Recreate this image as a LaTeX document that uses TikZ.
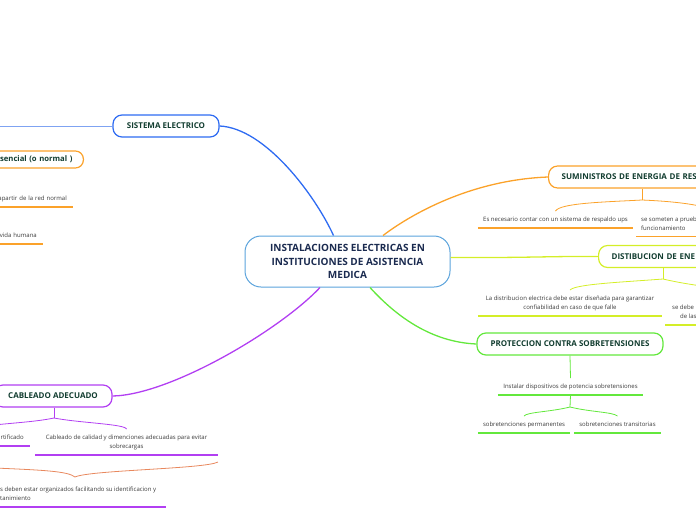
\documentclass[tikz,border=0pt]{standalone}
\usepackage{fontspec}
\setmainfont{Open Sans}
\definecolor{cblue}{HTML}{5BA3DC}
\definecolor{blueA}{HTML}{2E6BF2}
\definecolor{blueL}{HTML}{7FA3F2}
\definecolor{orng}{HTML}{FBA22A}
\definecolor{ygrn}{HTML}{D4EE28}
\definecolor{grn}{HTML}{63E83C}
\definecolor{purp}{HTML}{B23FF2}
\definecolor{salm}{HTML}{E8885E}
\definecolor{titlec}{HTML}{1B2B50}
\definecolor{topicc}{HTML}{123D30}
\definecolor{leafc}{HTML}{3A3A3A}
\begin{document}
\begin{tikzpicture}[x=1pt,y=-1pt,
  central/.style={draw=cblue, line width=1pt, rounded corners=16pt, fill=white,
    minimum width=205pt, minimum height=51pt, align=center,
    font=\fontsize{10}{13.5}\selectfont\bfseries, text=titlec},
  topic/.style={rounded corners=9pt, line width=1.2pt, fill=white, minimum height=22pt,
    font=\fontsize{8}{9}\selectfont\bfseries, text=topicc},
  leaf/.style={font=\fontsize{6}{9}\selectfont, text=leafc, inner xsep=0pt,
    inner ysep=6pt, text depth=0pt, align=center, anchor=south},
  ul/.style={line width=1.6pt},
  conn/.style={line width=1.3pt},
  sub/.style={line width=0.8pt}]
\useasboundingbox (0,0) rectangle (696,520);
\clip (0,0) rectangle (696,520);

% central
\node[central] (c) at (347.5,261.5) {INSTALACIONES ELECTRICAS EN\\INSTITUCIONES DE ASISTENCIA\\MEDICA};

% topics
\node[topic, draw=blueA, minimum width=106pt] (se) at (166,126) {SISTEMA ELECTRICO};
\node[topic, draw=orng, minimum height=17pt, rounded corners=8pt, text width=110pt, align=right,
  inner xsep=11pt, anchor=east, font=\fontsize{7.7}{9}\selectfont\bfseries] (es) at (84,159.5) {sencial (o normal )};
\node[topic, draw=orng, text width=160pt, align=left, inner xsep=13pt, anchor=west] (sum) at (548,177) {SUMINISTROS DE ENERGIA DE RES};
\node[topic, draw=ygrn, text width=160pt, align=left, inner xsep=13pt, anchor=west] (dis) at (598,256.5) {DISTIBUCION DE ENE};
\node[topic, draw=grn, minimum width=186pt] (pro) at (570,344) {PROTECCION CONTRA SOBRETENSIONES};
\node[topic, draw=purp, minimum width=118pt] (cab) at (53,396) {CABLEADO ADECUADO};

% main connectors
\draw[conn, blueA] ([xshift=-14pt]c.north) .. controls (315,195) and (265,128) .. (se.east);
\coordinate (seL) at (0,126);
\draw[sub, blueL] (se.west) -- (seL);
\draw[conn, orng] ([xshift=35.5pt]c.north) .. controls (410,215) and (470,180) .. (sum.west);
\draw[conn, ygrn] ([yshift=4pt]c.east) .. controls (520,258) and (560,256) .. (dis.west);
\draw[conn, grn] ([xshift=22.5pt]c.south) .. controls (395,315) and (430,342) .. (pro.west);
\draw[conn, purp] ([xshift=-27.5pt]c.south) .. controls (280,330) and (170,395) .. (cab.east);

% left orange leaves
\node[leaf, anchor=south east, inner xsep=6pt, text width=100pt, align=right] (apr) at (73,207) {apartir de la red normal};
\node[leaf, anchor=south east, inner xsep=6pt, text width=60pt, align=right] (vh) at (43,244) {vida humana};
\draw[ul, orng] ([xshift=-6pt]apr.south west) -- (apr.south east);
\draw[ul, orng] (vh.south west) -- (vh.south east);

% suministros
\node[leaf, minimum width=155pt] (esn) at (555.5,228) {Es necesario contar con un sistema de respaldo ups};
\node[leaf, anchor=south west, align=left] (srp) at (641,236.5) {se someten a prueb\\funcionamiento};
\draw[ul, orng] (esn.south west) -- (esn.south east);
\draw[ul, orng] ([xshift=-5pt]srp.south west) -- ([xshift=60pt]srp.south west);
\coordinate (sumb) at (642,200);
\coordinate (sumR) at (708,208);
\draw[sub, orng] (sumb |- sum.south) -- (sumb);
\draw[sub, orng] (sumb) .. controls (605,202) and (560,203) .. (esn.north);
\draw[sub, orng] (sumb) .. controls (665,201) and (690,203) .. (sumR);

% distribucion
\node[leaf, minimum width=184pt] (lad) at (570,316) {La distribucion electrica debe estar diseñada para garantizar\\confiabilidad en caso de que falle};
\node[leaf, anchor=south west, align=left] (sdb) at (665,325) {\hspace*{7pt}se debe\\\hspace*{15pt}de las};
\draw[ul, ygrn] (lad.south west) -- (lad.south east);
\draw[ul, ygrn] (sdb.south west) -- ([xshift=40pt]sdb.south west);
\coordinate (disb) at (663,279);
\coordinate (disR) at (708,287);
\draw[sub, ygrn] (disb |- dis.south) -- (disb);
\draw[sub, ygrn] (disb) .. controls (625,282) and (575,284) .. (lad.north);
\draw[sub, ygrn] (disb) .. controls (680,283) and (695,285) .. (disR);

% proteccion
\node[leaf, minimum width=145pt] (ins) at (570.5,395) {Instalar dispositivos de potencia sobretensiones};
\node[leaf, minimum width=92pt] (sp) at (524,433) {sobretenciones permanentes};
\node[leaf, minimum width=87pt] (st) at (617.5,433) {sobretenciones transitorias};
\draw[ul, grn] (ins.south west) -- (ins.south east);
\draw[ul, grn] (sp.south west) -- (sp.south east);
\draw[ul, grn] (st.south west) -- (st.south east);
\draw[sub, grn] (pro.south) -- (ins.north);
\coordinate (insb) at (570,407);
\draw[sub, grn] (ins.south) -- (insb);
\draw[sub, grn] (insb) .. controls (550,412) and (527,412) .. (sp.north);
\draw[sub, grn] (insb) .. controls (590,412) and (613,412) .. (st.north);

% cableado
\node[leaf, anchor=south east, inner xsep=6pt, text width=50pt, align=right] (rtf) at (30,446) {rtificado};
\node[leaf, minimum width=183pt] (cad) at (126.5,455) {Cableado de calidad y dimenciones adecuadas para evitar\\sobrecargas};
\draw[ul, purp] (rtf.south west) -- (rtf.south east);
\draw[ul, purp] (cad.south west) -- (cad.south east);
\coordinate (cabb) at (54,418);
\coordinate (cabL) at (-15,426);
\draw[sub, purp] (cabb |- cab.south) -- (cabb);
\draw[sub, purp] (cabb) .. controls (35,422) and (10,423) .. (cabL);
\draw[sub, purp] (cabb) .. controls (80,423) and (125,424) .. (cad.north);

% salmon brace and last leaf
\coordinate (brL) at (-5,468);
\coordinate (brT) at (75,477);
\coordinate (brR) at (218,462);
\draw[sub, salm] (brL) .. controls (40,470) and (68,471) .. (brT);
\draw[sub, salm] (brT) .. controls (90,470) and (205,469) .. (brR);
\node[leaf, anchor=south west, align=left] (sdeb) at (0,507) {s deben estar organizados facilitando su identificacion y\\tanimiento};
\draw[ul, purp] (sdeb.south west) -- ([xshift=166pt]sdeb.south west);
\end{tikzpicture}
\end{document}
